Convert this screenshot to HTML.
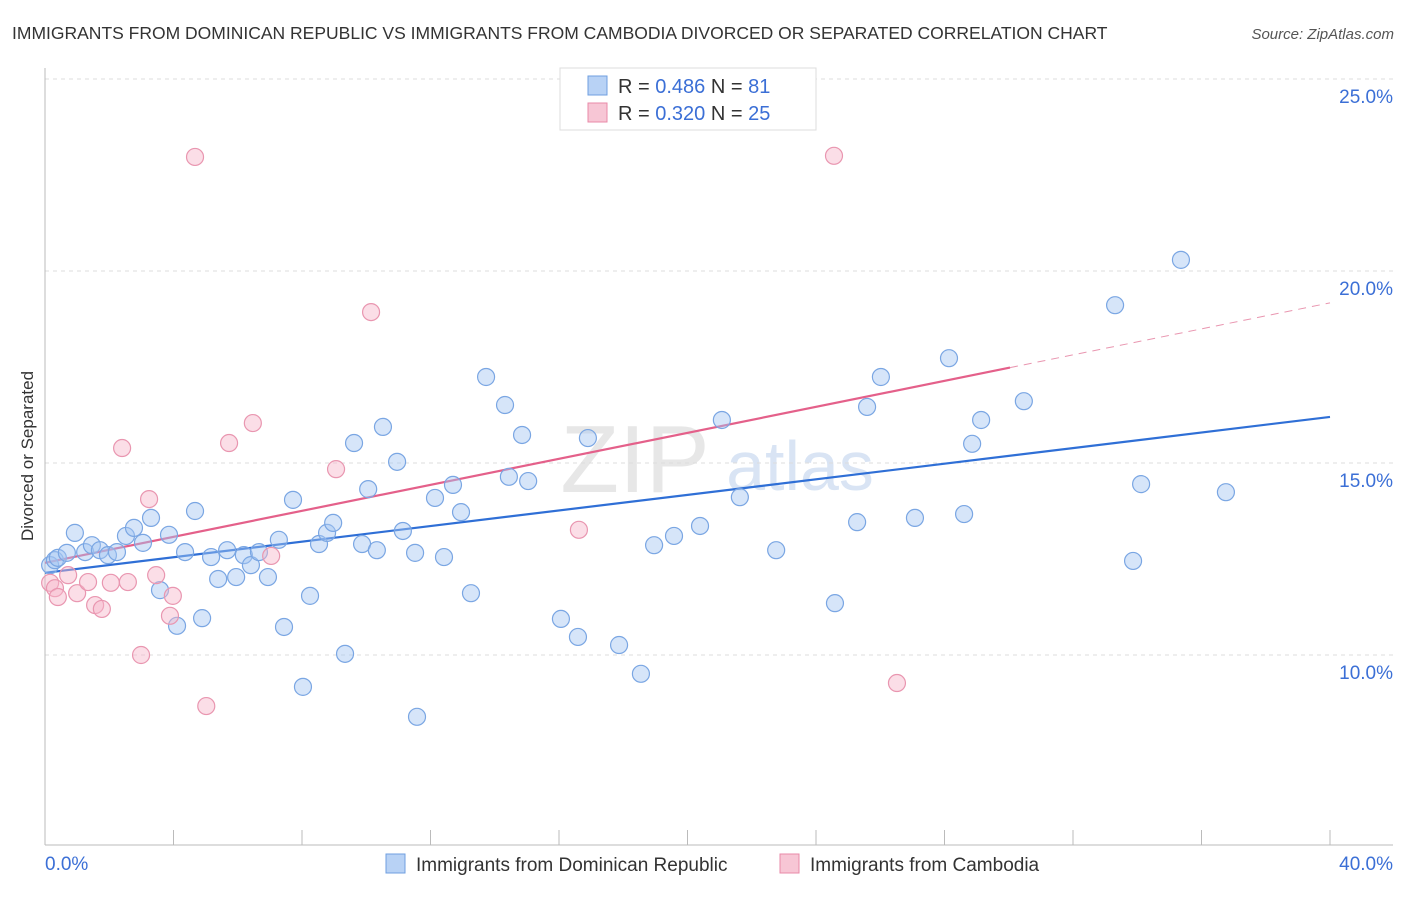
<!DOCTYPE html>
<html><head><meta charset="utf-8"><style>
body{margin:0;background:#fff;font-family:"Liberation Sans",sans-serif}
svg text{font-family:"Liberation Sans",sans-serif}
</style></head><body>
<svg id="c" width="1406" height="892" xmlns="http://www.w3.org/2000/svg">
<text x="12" y="39" font-size="17.5" fill="#333">IMMIGRANTS FROM DOMINICAN REPUBLIC VS IMMIGRANTS FROM CAMBODIA DIVORCED OR SEPARATED CORRELATION CHART</text>
<text x="1394" y="39" font-size="15" fill="#555" font-style="italic" text-anchor="end">Source: ZipAtlas.com</text>
<text transform="translate(33,456) rotate(-90)" font-size="17" fill="#333" text-anchor="middle">Divorced or Separated</text>
<g><text x="635" y="492" font-size="96" fill="#ddd" font-family="Liberation Serif" text-anchor="middle" opacity="0.7">ZIP</text><text x="800" y="490" font-size="70" fill="#c9daf0" text-anchor="middle" opacity="0.7">atlas</text></g>
<g id="grid"></g><g id="axes"></g><g id="lines"></g><g id="pts"></g>
<g>
<rect x="560" y="68" width="256" height="62" fill="#fff" stroke="#ddd"/>
<rect x="588" y="76" width="19" height="19" fill="#b8d2f5" stroke="#6f9fe0"/>
<text x="618" y="93" font-size="20" fill="#333">R = <tspan fill="#3b6fd6">0.486</tspan>   N = <tspan fill="#3b6fd6"> 81</tspan></text>
<rect x="588" y="103" width="19" height="19" fill="#f7c6d5" stroke="#e88aa8"/>
<text x="618" y="120" font-size="20" fill="#333">R = <tspan fill="#3b6fd6">0.320</tspan>   N = <tspan fill="#3b6fd6">25</tspan></text>
</g>
<g>
<rect x="386" y="854" width="19" height="19" fill="#b8d2f5" stroke="#6f9fe0"/>
<text x="416" y="871" font-size="19" fill="#333">Immigrants from Dominican Republic</text>
<rect x="780" y="854" width="19" height="19" fill="#f7c6d5" stroke="#e88aa8"/>
<text x="810" y="871" font-size="19" fill="#333">Immigrants from Cambodia</text>
</g>
</svg>
<script>
const blueX=[0.16,0.31,0.40,0.68,0.93,1.25,1.46,1.71,1.96,2.24,2.52,2.77,3.05,3.30,3.58,3.86,4.11,4.36,4.67,4.89,5.17,5.39,5.67,5.95,6.19,6.41,6.66,6.94,7.28,7.44,7.72,8.03,8.25,8.53,8.78,8.97,9.34,9.62,9.87,10.06,10.33,10.52,10.96,11.14,11.52,11.58,12.14,12.42,12.70,12.95,13.26,13.73,14.32,14.44,14.85,15.04,16.06,16.59,16.90,17.87,18.55,18.96,19.58,20.39,21.07,21.63,22.76,24.59,25.28,25.59,26.02,27.08,28.14,28.61,28.86,29.14,30.47,33.31,33.87,34.12,35.36,36.76];
const blueY=[12.34,12.47,12.53,12.66,13.18,12.68,12.86,12.73,12.60,12.68,13.10,13.31,12.92,13.57,11.69,13.13,10.76,12.68,13.75,10.96,12.55,11.98,12.73,12.03,12.60,12.34,12.68,12.03,13.0,10.73,14.04,9.17,11.54,12.89,13.18,13.44,10.03,15.52,12.89,14.32,12.73,15.94,15.03,13.23,12.66,8.39,14.09,12.55,14.43,13.72,11.61,17.24,16.51,14.64,15.73,14.53,10.94,10.47,15.65,10.26,9.51,12.86,13.10,13.36,16.12,14.11,12.73,11.35,13.46,16.46,17.24,13.57,17.73,13.67,15.50,16.12,16.61,19.11,12.45,14.45,20.29,14.24];
const pinkX=[0.16,0.31,0.40,0.72,1.0,1.34,1.56,1.77,2.05,2.40,2.58,2.99,3.24,3.46,3.89,3.98,4.67,5.02,5.73,6.47,7.04,9.06,10.15,16.62,24.56,26.52];
const pinkY=[11.88,11.74,11.51,12.08,11.61,11.90,11.30,11.20,11.88,15.39,11.90,10.0,14.06,12.08,11.02,11.54,22.97,8.67,15.52,16.04,12.58,14.84,18.93,13.26,23.0,9.27];
const yTicks=[10,15,20,25];
const xTickLabels=["0.0%","40.0%"];
const blueFit=[12.14,16.20];
const pinkFit=[12.40,19.17];
const NS="http://www.w3.org/2000/svg";
const X=v=>45+v*32.125, Y=v=>79+(25-v)*38.4;
function mk(p,t,a){const e=document.createElementNS(NS,t);for(const k in a)e.setAttribute(k,a[k]);document.getElementById(p).appendChild(e);return e;}
yTicks.forEach(t=>{
 const l=mk('grid','line',{x1:45,x2:1393,y1:Y(t),y2:Y(t),stroke:'#ddd','stroke-dasharray':'4,4'});
 
 
 const tx=mk('grid','text',{x:1393,y:Y(t)+24,'font-size':19,fill:'#3b6fd6','text-anchor':'end'});tx.textContent=t.toFixed(1)+'%';
 
 
});
let ax=mk('axes','line',{x1:45,x2:45,y1:68,y2:845,stroke:'#bbb'});


ax=mk('axes','line',{x1:45,x2:1393,y1:845,y2:845,stroke:'#bbb'});


for(let i=1;i<=10;i++){const t=mk('axes','line',{x1:X(i*4),x2:X(i*4),y1:830,y2:845,stroke:'#bbb'});
 
 }
let xl=mk('axes','text',{x:45,y:870,'font-size':19,fill:'#3b6fd6'});xl.textContent=xTickLabels[0];


xl=mk('axes','text',{x:1393,y:870,'font-size':19,fill:'#3b6fd6','text-anchor':'end'});xl.textContent=xTickLabels[1];


function pts(xs,ys,fill,stroke,name){xs.forEach((x,i)=>{const c=mk('pts','circle',{cx:X(x),cy:Y(ys[i]),r:8.5,fill:fill,stroke:stroke,'stroke-width':1.2});
 
 });}
pts(blueX,blueY,'rgba(165,198,242,0.45)','#7aa6e3','point-dominican');
pts(pinkX,pinkY,'rgba(246,182,202,0.45)','#e996b0','point-cambodia');
let bl=mk('lines','line',{x1:X(0),y1:Y(blueFit[0]),x2:X(40),y2:Y(blueFit[1]),stroke:'#2f6fd6','stroke-width':2.2});


const xs=30.04, ym=pinkFit[0]+(pinkFit[1]-pinkFit[0])*xs/40;
let pl=mk('lines','line',{x1:X(0),y1:Y(pinkFit[0]),x2:X(xs),y2:Y(ym),stroke:'#e4608a','stroke-width':2.2});


pl=mk('lines','line',{x1:X(xs),y1:Y(ym),x2:X(40),y2:Y(pinkFit[1]),stroke:'#e996b0','stroke-width':1,'stroke-dasharray':'8,6'});


</script>
</body></html>
